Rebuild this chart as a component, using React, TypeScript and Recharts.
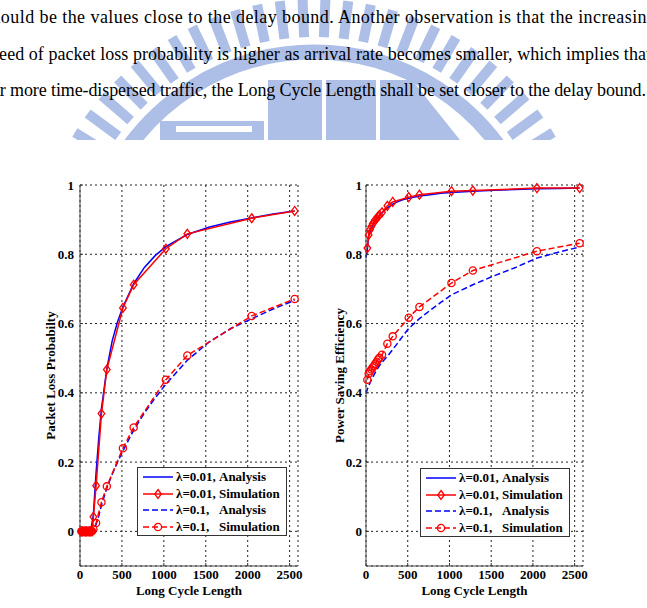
import React from 'react'
import { ComposedChart, Line, XAxis, YAxis, CartesianGrid, Legend } from 'recharts'

// Long Cycle Length values used in the simulation runs
const cycleSim = [16, 32, 48, 64, 80, 96, 112, 128, 144, 160, 192, 256, 320, 512, 640, 1024, 1280, 2048, 2560]
const lossSimLow = [0, 0, 0, 0, 0, 0, 0, 0, 0, 0.042, 0.132, 0.34, 0.467, 0.645, 0.712, 0.816, 0.859, 0.904, 0.925]
const lossSimHigh = [0, 0, 0, 0, 0, 0, 0, 0, 0, 0.006, 0.024, 0.084, 0.13, 0.24, 0.3, 0.438, 0.508, 0.622, 0.671]
const effSimLow = [0.818, 0.856, 0.871, 0.88, 0.888, 0.894, 0.899, 0.904, 0.909, 0.913, 0.921, 0.94, 0.951, 0.965, 0.972, 0.982, 0.984, 0.991, 0.991]
const effSimHigh = [0.438, 0.455, 0.462, 0.467, 0.473, 0.478, 0.484, 0.49, 0.496, 0.501, 0.51, 0.542, 0.563, 0.617, 0.648, 0.717, 0.753, 0.809, 0.832]

// analysis curves
const cycleAna = [0, 16, 32, 64, 96, 128, 160, 192, 224, 256, 320, 384, 448, 512, 640, 768, 896, 1024, 1280, 1536, 1792, 2048, 2304, 2560]
const lossAnaLow = [0, 0, 0, 0, 0, 0, 0.05, 0.17, 0.27, 0.355, 0.47, 0.55, 0.605, 0.648, 0.715, 0.762, 0.796, 0.822, 0.857, 0.878, 0.893, 0.905, 0.916, 0.925]
const lossAnaHigh = [0, 0, 0, 0, 0, 0, 0.004, 0.02, 0.045, 0.075, 0.125, 0.165, 0.2, 0.232, 0.292, 0.342, 0.385, 0.425, 0.494, 0.546, 0.585, 0.614, 0.642, 0.667]
const effAnaLow = [0.79, 0.815, 0.852, 0.877, 0.892, 0.902, 0.911, 0.919, 0.927, 0.934, 0.945, 0.952, 0.958, 0.962, 0.968, 0.972, 0.976, 0.978, 0.982, 0.985, 0.987, 0.989, 0.99, 0.991]
const effAnaHigh = [0.398, 0.41, 0.42, 0.437, 0.452, 0.466, 0.478, 0.488, 0.497, 0.505, 0.525, 0.545, 0.566, 0.586, 0.614, 0.638, 0.661, 0.683, 0.712, 0.738, 0.762, 0.789, 0.806, 0.821]

const xTicks = [0, 500, 1000, 1500, 2000, 2500]
const yTicks = [0, 0.2, 0.4, 0.6, 0.8, 1]

const legendRates = ['λ=0.01,', 'λ=0.01,', 'λ=0.1,', 'λ=0.1,']
const legendKinds = ['Analysis', 'Simulation', 'Analysis', 'Simulation']

const textLines = [
  'should be the values close to the delay bound. Another observation is that the increasing',
  'speed of packet loss probability is higher as arrival rate becomes smaller, which implies that',
  'for more time-dispersed traffic, the Long Cycle Length shall be set closer to the delay bound.',
]

const SERIF = '"Liberation Serif", "Times New Roman", serif'
const BLUE = '#0000ff'
const RED = '#ff0000'
const DASH = '6 3'
const LOGO = '#aebfe7'

const zip = (xs: number[], ys: number[]) => xs.map((x, i) => ({ x, y: ys[i] }))

const styles = [
  { color: BLUE, dash: undefined, marker: 'none' },
  { color: RED, dash: undefined, marker: 'diamond' },
  { color: BLUE, dash: DASH, marker: 'none' },
  { color: RED, dash: DASH, marker: 'circle' },
]

function markerShape(kind: string, cx: number, cy: number, key?: string) {
  if (kind === 'diamond') {
    return <polygon key={key} points={`${cx},${cy - 4.5} ${cx + 3.3},${cy} ${cx},${cy + 4.5} ${cx - 3.3},${cy}`} fill="none" stroke={RED} strokeWidth={1.3} />
  }
  if (kind === 'circle') {
    return <circle key={key} cx={cx} cy={cy} r={3.6} fill="none" stroke={RED} strokeWidth={1.3} />
  }
  return null
}

const diamondDot = (p: any) => (p.cx == null ? null : markerShape('diamond', p.cx, p.cy, `d-${p.index}`))
const circleDot = (p: any) => (p.cx == null ? null : markerShape('circle', p.cx, p.cy, `c-${p.index}`))

function LegendBox() {
  return (
    <div style={{
      width: 150, height: 69, boxSizing: 'border-box', border: '1px solid #333', background: '#fff',
      paddingTop: 1, fontFamily: SERIF, fontWeight: 'bold', fontSize: 13, color: '#000',
    }}>
      {styles.map((s, i) => (
        <div key={i} style={{ display: 'flex', alignItems: 'center', height: 16.6, whiteSpace: 'nowrap' }}>
          <svg width={36} height={12} style={{ flex: 'none' }}>
            <line x1={5} x2={35} y1={6} y2={6} stroke={s.color} strokeWidth={1.5} strokeDasharray={s.dash} />
            {markerShape(s.marker, 20, 6)}
          </svg>
          <span style={{ display: 'inline-block', width: 43, marginLeft: 2 }}>{legendRates[i]}</span>
          <span>{legendKinds[i]}</span>
        </div>
      ))}
    </div>
  )
}

const tickStyle = { fill: '#000', fontSize: 13, fontWeight: 'bold', fontFamily: SERIF }

interface PanelProps {
  left: number
  width: number
  marginLeft: number
  marginRight: number
  yAxisWidth: number
  yTickMargin: number
  yTitle: string
  yTitleX: number
  legendPos: { left: number; top: number }
  series: { x: number; y: number }[][]
}

function Panel({ left, width, marginLeft, marginRight, yAxisWidth, yTickMargin, yTitle, yTitleX, legendPos, series }: PanelProps) {
  return (
    <div style={{ position: 'absolute', left, top: 150 }}>
      <ComposedChart width={width} height={458} margin={{ top: 35, right: marginRight, bottom: 0, left: marginLeft }}>
        <CartesianGrid stroke="#222" strokeDasharray="2 3" />
        <XAxis
          dataKey="x" type="number" domain={[0, 2600]} ticks={xTicks} height={42}
          tick={tickStyle} tickSize={-3} tickMargin={7}
          tickLine={{ stroke: '#333' }} axisLine={{ stroke: '#444' }}
          label={(p: any) => (
            <text x={p.viewBox.x + p.viewBox.width / 2} y={p.viewBox.y + 29} textAnchor="middle"
              fontFamily={SERIF} fontWeight="bold" fontSize={13} fill="#000">Long Cycle Length</text>
          )}
        />
        <XAxis xAxisId="top" orientation="top" type="number" domain={[0, 2600]} ticks={xTicks} height={0}
          tick={false} tickSize={-3} tickLine={{ stroke: '#333' }} axisLine={{ stroke: '#444' }} />
        <YAxis
          type="number" domain={[-0.1, 1]} ticks={yTicks} width={yAxisWidth}
          tick={tickStyle} tickSize={-3} tickMargin={yTickMargin}
          tickLine={{ stroke: '#333' }} axisLine={{ stroke: '#444' }}
          label={(p: any) => {
            const cy = p.viewBox.y + p.viewBox.height / 2
            return (
              <text x={yTitleX} y={cy} textAnchor="middle" dominantBaseline="central"
                transform={`rotate(-90, ${yTitleX}, ${cy})`}
                fontFamily={SERIF} fontWeight="bold" fontSize={13} fill="#000">{yTitle}</text>
            )
          }}
        />
        <YAxis yAxisId="right" orientation="right" type="number" domain={[-0.1, 1]} ticks={yTicks} width={0}
          tick={false} tickSize={-3} tickLine={{ stroke: '#333' }} axisLine={{ stroke: '#444' }} />
        <Legend
          layout="vertical" verticalAlign="middle" align="center"
          wrapperStyle={{ left: legendPos.left, top: legendPos.top, width: 150, height: 69 }}
          content={() => <LegendBox />}
        />
        <Line data={series[0]} dataKey="y" name="λ=0.01, Analysis" stroke={BLUE} strokeWidth={1.5} dot={false} isAnimationActive={false} />
        <Line data={series[1]} dataKey="y" name="λ=0.01, Simulation" stroke={RED} strokeWidth={1.5} dot={diamondDot} isAnimationActive={false} />
        <Line data={series[2]} dataKey="y" name="λ=0.1, Analysis" stroke={BLUE} strokeWidth={1.5} strokeDasharray={DASH} dot={false} isAnimationActive={false} />
        <Line data={series[3]} dataKey="y" name="λ=0.1, Simulation" stroke={RED} strokeWidth={1.5} strokeDasharray={DASH} dot={circleDot} isAnimationActive={false} />
      </ComposedChart>
    </div>
  )
}

// faint university logo behind the paragraph
function Watermark() {
  const cx = 314, cy = 280
  const bars = []
  const count = 28
  for (let i = 0; i < count; i++) {
    const a = 27 + (126 * i) / (count - 1)
    bars.push(<rect key={i} x={243} y={-5} width={38} height={10} transform={`translate(${cx},${cy}) rotate(${-a})`} />)
  }
  const r = 228
  const rad = (d: number) => (d * Math.PI) / 180
  const arc = `M ${cx + r * Math.cos(rad(155))} ${cy - r * Math.sin(rad(155))} A ${r} ${r} 0 0 1 ${cx + r * Math.cos(rad(25))} ${cy - r * Math.sin(rad(25))}`
  return (
    <g fill={LOGO}>
      {bars}
      <path d={arc} fill="none" stroke={LOGO} strokeWidth={15} />
      <rect x={160} y={121} width={104} height={19} />
      <rect x={268} y={80} width={54} height={60} />
      <rect x={326} y={80} width={50} height={60} />
      <polygon points="380,80 412,80 460,140 380,140" />
      <rect x={176} y={126} width={76} height={6} fill="#fff" />
    </g>
  )
}

// each line of the cropped paragraph: start (partly off-page) and stretched length
const lineLayout = [
  { x: -16, length: 672, baseline: 23 },
  { x: -17, length: 668, baseline: 60 },
  { x: -15, length: 661, baseline: 96 },
]

export default function App() {
  return (
    <div style={{ position: 'absolute', left: 0, top: 0, width: 647, height: 608, overflow: 'hidden', background: '#fff' }}>
      <svg width={647} height={140} style={{ position: 'absolute', left: 0, top: 0 }}>
        <Watermark />
        {textLines.map((t, i) => (
          <text key={i} x={lineLayout[i].x} y={lineLayout[i].baseline} textLength={lineLayout[i].length}
            lengthAdjust="spacing" fontFamily={SERIF} fontSize={18} fill="#000">{t}</text>
        ))}
      </svg>
      <Panel
        left={0} width={330} marginLeft={40} marginRight={32} yAxisWidth={40} yTickMargin={9}
        yTitle="Packet Loss Probabilty" yTitleX={50}
        legendPos={{ left: 137, top: 317 }}
        series={[zip(cycleAna, lossAnaLow), zip(cycleSim, lossSimLow), zip(cycleAna, lossAnaHigh), zip(cycleSim, lossSimHigh)]}
      />
      <Panel
        left={320} width={327} marginLeft={10} marginRight={64} yAxisWidth={36} yTickMargin={7}
        yTitle="Power Saving Efficiency" yTitleX={19}
        legendPos={{ left: 100, top: 318 }}
        series={[zip(cycleAna, effAnaLow), zip(cycleSim, effSimLow), zip(cycleAna, effAnaHigh), zip(cycleSim, effSimHigh)]}
      />
    </div>
  )
}
